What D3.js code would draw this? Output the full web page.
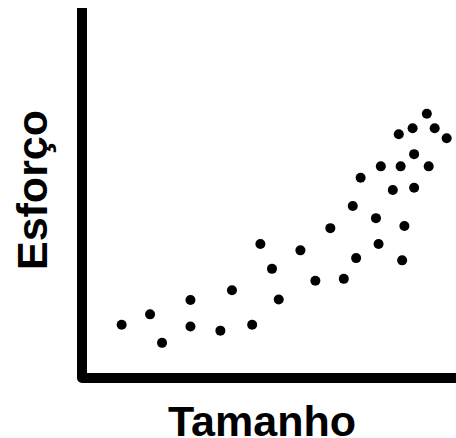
<!DOCTYPE html>
<html>
<head>
<meta charset="utf-8">
<script src="https://cdn.jsdelivr.net/npm/d3@7"></script>
<style>
  body { margin: 0; background: #fff; }
  .label { font-family: "Liberation Sans", Arial, sans-serif; font-weight: bold; fill: #000; }
</style>
</head>
<body>
<svg width="456" height="438"></svg>
<script>
// tamanho (x) e esforço (y), unidades arbitrárias 0-100
const tamanho = [10.6, 18.2, 21.4, 29.0, 29.0, 37.0, 40.1, 45.5, 47.7, 50.8, 52.6,
  58.4, 62.4, 70.0, 66.4, 73.3, 72.4, 74.5, 78.6, 79.3, 79.9, 83.1, 84.7, 85.2,
  85.6, 86.2, 88.4, 88.8, 88.8, 92.2, 92.7, 94.3, 97.5];
const esforco = [14.4, 17.2, 9.5, 21.1, 13.9, 12.8, 23.7, 14.4, 36.2, 29.5, 21.2,
  34.5, 26.3, 26.8, 40.5, 32.4, 46.5, 54.1, 43.2, 36.2, 57.2, 50.8, 65.9, 57.2,
  31.8, 41.1, 67.5, 60.5, 51.4, 71.4, 57.2, 67.5, 64.8];
const xLabel = 'Tamanho';
const yLabel = 'Esforço';

const svg = d3.select('svg');
const x = d3.scaleLinear().domain([0, 100]).range([82, 456]);
const y = d3.scaleLinear().domain([0, 100]).range([378, 8]);

// eixos: so as linhas grossas, sem ticks
svg.append('path')
  .attr('d', d3.line()([[x(0), y(100)], [x(0), y(0)], [x(100), y(0)]]))
  .attr('fill', 'none')
  .attr('stroke', '#000')
  .attr('stroke-width', 10)
  .attr('stroke-linejoin', 'round');

svg.append('g').selectAll('circle')
  .data(tamanho.map((t, i) => [t, esforco[i]]))
  .enter().append('circle')
    .attr('cx', d => x(d[0]))
    .attr('cy', d => y(d[1]))
    .attr('r', 5)
    .attr('fill', '#000');

svg.append('text')
  .attr('class', 'label')
  .attr('x', 262)
  .attr('y', 436)
  .attr('text-anchor', 'middle')
  .style('font-size', '43px')
  .text(xLabel);

svg.append('text')
  .attr('class', 'label')
  .attr('transform', 'translate(46.5,190) rotate(-90)')
  .attr('text-anchor', 'middle')
  .style('font-size', '43px')
  .text(yLabel);
</script>
</body>
</html>
